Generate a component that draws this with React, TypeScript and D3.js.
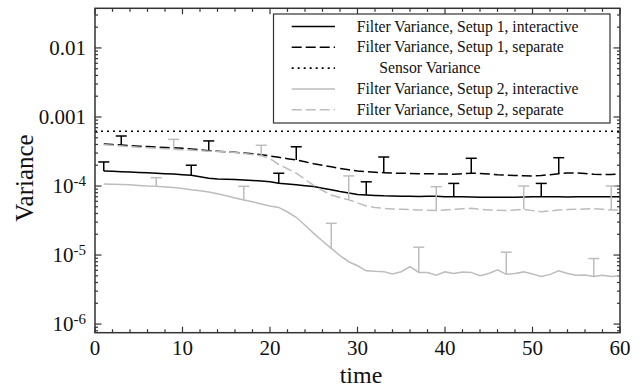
import React from "react";
import * as d3 from "d3";

const W = 642;
const H = 388;

// time steps 1..60
const timeSteps = d3.range(1, 61);

// Filter Variance, Setup 1, interactive (x1e-4)
const s1Interactive = [
  1.65, 1.63, 1.61, 1.59, 1.57, 1.55, 1.53, 1.51, 1.49, 1.46,
  1.43, 1.36, 1.3, 1.26, 1.25, 1.24, 1.22, 1.2, 1.18, 1.15,
  1.1, 1.07, 1.04, 1.01, 0.98, 0.93, 0.88, 0.83, 0.79, 0.755,
  0.74, 0.73, 0.72, 0.715, 0.71, 0.71, 0.705, 0.71, 0.71, 0.7,
  0.7, 0.7, 0.695, 0.69, 0.69, 0.685, 0.685, 0.69, 0.695, 0.7,
  0.7, 0.7, 0.7, 0.695, 0.7, 0.7, 0.7, 0.7, 0.7, 0.7,
].map((v) => v * 1e-4);

// Filter Variance, Setup 1, separate (x1e-4)
const s1Separate = [
  4.05, 3.98, 3.93, 3.85, 3.78, 3.72, 3.68, 3.62, 3.57, 3.52,
  3.45, 3.35, 3.25, 3.2, 3.14, 3.07, 3.0, 2.94, 2.84, 2.72,
  2.6, 2.49, 2.38, 2.24, 2.1, 1.99, 1.9, 1.8, 1.72, 1.65,
  1.61, 1.58, 1.56, 1.54, 1.53, 1.52, 1.51, 1.51, 1.5, 1.49,
  1.48, 1.5, 1.53, 1.52, 1.49, 1.46, 1.44, 1.42, 1.41, 1.4,
  1.42, 1.46, 1.51, 1.54, 1.55, 1.52, 1.48, 1.46, 1.47, 1.48,
].map((v) => v * 1e-4);

// Sensor Variance (constant)
const sensorVariance = 6.2e-4;

// Filter Variance, Setup 2, interactive (x1e-4)
const s2Interactive = [
  1.07, 1.06, 1.05, 1.04, 1.02, 1.0, 0.99, 0.97, 0.95, 0.92,
  0.88, 0.855, 0.82, 0.77, 0.72, 0.67, 0.627, 0.59, 0.55, 0.513,
  0.49, 0.42, 0.352, 0.27, 0.206, 0.16, 0.125, 0.098, 0.08, 0.07,
  0.059, 0.058, 0.0575, 0.053, 0.0573, 0.068, 0.056, 0.056, 0.051, 0.057,
  0.054, 0.057, 0.056, 0.05, 0.054, 0.061, 0.0525, 0.054, 0.057, 0.053,
  0.049, 0.0525, 0.059, 0.054, 0.051, 0.0515, 0.049, 0.051, 0.049, 0.05,
].map((v) => v * 1e-4);

// Filter Variance, Setup 2, separate (x1e-4)
const s2Separate = [
  3.95, 3.88, 3.8, 3.72, 3.65, 3.58, 3.52, 3.46, 3.4, 3.35,
  3.3, 3.25, 3.2, 3.17, 3.14, 3.05, 2.95, 2.85, 2.75, 2.5,
  2.05, 1.78, 1.53, 1.25, 1.02, 0.86, 0.74, 0.68, 0.63, 0.57,
  0.515, 0.49, 0.475, 0.465, 0.46, 0.455, 0.45, 0.445, 0.44, 0.45,
  0.46, 0.47, 0.475, 0.46, 0.45, 0.445, 0.44, 0.45, 0.46, 0.44,
  0.425, 0.435, 0.45, 0.455, 0.46, 0.465, 0.47, 0.46, 0.45, 0.45,
].map((v) => v * 1e-4);

// error bar times and upper ends
const s1iErrT = [1, 11, 21, 31, 41, 51];
const s1iErrTop = [2.23e-4, 2.0e-4, 1.53e-4, 1.15e-4, 1.09e-4, 1.09e-4];
const s1sErrT = [3, 13, 23, 33, 43, 53];
const s1sErrTop = [5.3e-4, 4.5e-4, 3.7e-4, 2.63e-4, 2.52e-4, 2.57e-4];
const s2iErrT = [7, 17, 27, 37, 47, 57];
const s2iErrTop = [1.32e-4, 0.99e-4, 2.88e-5, 1.3e-5, 1.1e-5, 8.9e-6];
const s2sErrT = [9, 19, 29, 39, 49, 59];
const s2sErrTop = [4.74e-4, 3.89e-4, 1.4e-4, 0.977e-4, 1.0e-4, 1.0e-4];

const xTicks = [0, 10, 20, 30, 40, 50, 60];
const yTickValues = [1e-2, 1e-3, 1e-4, 1e-5, 1e-6];
const yTickBase = ["0.01", "0.001", "10", "10", "10"];
const yTickSup = ["", "", "-4", "-5", "-6"];

const legendLabels = [
  "Filter Variance, Setup 1, interactive",
  "Filter Variance, Setup 1, separate",
  "Sensor Variance",
  "Filter Variance, Setup 2, interactive",
  "Filter Variance, Setup 2, separate",
];

const FONT = "'Liberation Serif', 'Times New Roman', serif";
const BLACK = "#000";
const GRAY = "#bdbdbd";
const AXIS = "#333";

export default function App() {
  const L = 95, R = 620, T = 8.3, B = 332.7;
  const x = d3.scaleLinear().domain([0, 60]).range([L, R]);
  const y = d3.scaleLog().domain([7.5e-7, 0.0375]).range([B, T]);

  const line = (vals: number[]) =>
    d3.line<number>().x((_, i) => x(timeSteps[i])).y((v) => y(v))(vals) || "";

  const series = [
    { vals: s1Interactive, color: BLACK, dash: "none", et: s1iErrT, etop: s1iErrTop },
    { vals: s1Separate, color: BLACK, dash: "10,4", et: s1sErrT, etop: s1sErrTop },
    { vals: s2Interactive, color: GRAY, dash: "none", et: s2iErrT, etop: s2iErrTop },
    { vals: s2Separate, color: GRAY, dash: "10,4", et: s2sErrT, etop: s2sErrTop },
  ];

  const xMinor = d3.range(0, 61, 2).filter((t) => t % 10 !== 0);
  const yMinor: number[] = [];
  for (let e = -7; e <= -2; e++) {
    for (let m = 2; m <= 9; m++) {
      const v = m * Math.pow(10, e);
      if (v > 7.5e-7 && v < 0.0375) yMinor.push(v);
    }
  }

  const legendStyles = [
    { color: BLACK, dash: "none" },
    { color: BLACK, dash: "10,4" },
    { color: BLACK, dash: "2,4" },
    { color: GRAY, dash: "none" },
    { color: GRAY, dash: "10,4" },
  ];

  return (
    <svg
      width={W}
      height={H}
      style={{ position: "absolute", left: 0, top: 0, background: "#fff" }}
      fontFamily={FONT}
    >
      <rect x={0} y={0} width={W} height={H} fill="#fff" />
      {/* ticks */}
      <g stroke={AXIS} strokeWidth={1.2}>
        {xTicks.map((t) => (
          <g key={"xt" + t}>
            <line x1={x(t)} x2={x(t)} y1={B} y2={B - 6} />
            <line x1={x(t)} x2={x(t)} y1={T} y2={T + 6} />
          </g>
        ))}
        {xMinor.map((t) => (
          <g key={"xm" + t}>
            <line x1={x(t)} x2={x(t)} y1={B} y2={B - 3.5} />
            <line x1={x(t)} x2={x(t)} y1={T} y2={T + 3.5} />
          </g>
        ))}
        {yTickValues.map((v) => (
          <g key={"yt" + v}>
            <line x1={L} x2={L + 6.5} y1={y(v)} y2={y(v)} />
            <line x1={R} x2={R - 6.5} y1={y(v)} y2={y(v)} />
          </g>
        ))}
        {yMinor.map((v) => (
          <g key={"ym" + v}>
            <line x1={L} x2={L + 3} y1={y(v)} y2={y(v)} />
            <line x1={R} x2={R - 3} y1={y(v)} y2={y(v)} />
          </g>
        ))}
      </g>

      {/* sensor variance */}
      <line
        x1={x(0)}
        x2={x(60)}
        y1={y(sensorVariance)}
        y2={y(sensorVariance)}
        stroke={BLACK}
        strokeWidth={1.6}
        strokeDasharray="2,4"
      />

      {/* series */}
      {series.map((s, i) => (
        <g key={"s" + i}>
          <path d={line(s.vals)} fill="none" stroke={s.color} strokeWidth={1.5} strokeDasharray={s.dash} />
          {s.et.map((t, j) => {
            const yb = y(s.vals[t - 1]);
            const yt = y(s.etop[j]);
            return (
              <g key={"e" + j} stroke={s.color} strokeWidth={1.5}>
                <line x1={x(t)} x2={x(t)} y1={yb} y2={yt} />
                <line x1={x(t) - 5.5} x2={x(t) + 5.5} y1={yt} y2={yt} />
              </g>
            );
          })}
        </g>
      ))}

      {/* frame */}
      <rect x={L} y={T} width={R - L} height={B - T} fill="none" stroke={AXIS} strokeWidth={1.5} />

      {/* x tick labels */}
      {xTicks.map((t) => (
        <text key={"xl" + t} x={x(t)} y={355} fontSize={21} textAnchor="middle" fill="#111">
          {t}
        </text>
      ))}
      {/* y tick labels */}
      {yTickValues.map((v, i) => (
        <text key={"yl" + v} x={86} y={y(v) + 7} fontSize={21} textAnchor="end" fill="#111">
          {yTickBase[i]}
          {yTickSup[i] ? (
            <tspan fontSize={15} dy={-7}>
              {yTickSup[i]}
            </tspan>
          ) : null}
        </text>
      ))}

      {/* axis titles */}
      <text x={361} y={383} fontSize={24} textAnchor="middle" fill="#111">
        time
      </text>
      <text transform="translate(33,178) rotate(-90)" fontSize={25} textAnchor="middle" fill="#111">
        Variance
      </text>

      {/* legend */}
      <rect x={273.5} y={14} width={336.5} height={109} fill="#fff" stroke={AXIS} strokeWidth={1.2} />
      {legendLabels.map((lab, i) => {
        const cy = 26.5 + i * 20.8;
        const st = legendStyles[i];
        return (
          <g key={"lg" + i}>
            <line
              x1={291.7}
              x2={335}
              y1={cy}
              y2={cy}
              stroke={st.color}
              strokeWidth={i === 2 ? 1.6 : 1.5}
              strokeDasharray={st.dash}
            />
            <text x={i === 2 ? 379.3 : 356.7} y={cy + 5} fontSize={15.7} fill="#111">
              {lab}
            </text>
          </g>
        );
      })}
    </svg>
  );
}
